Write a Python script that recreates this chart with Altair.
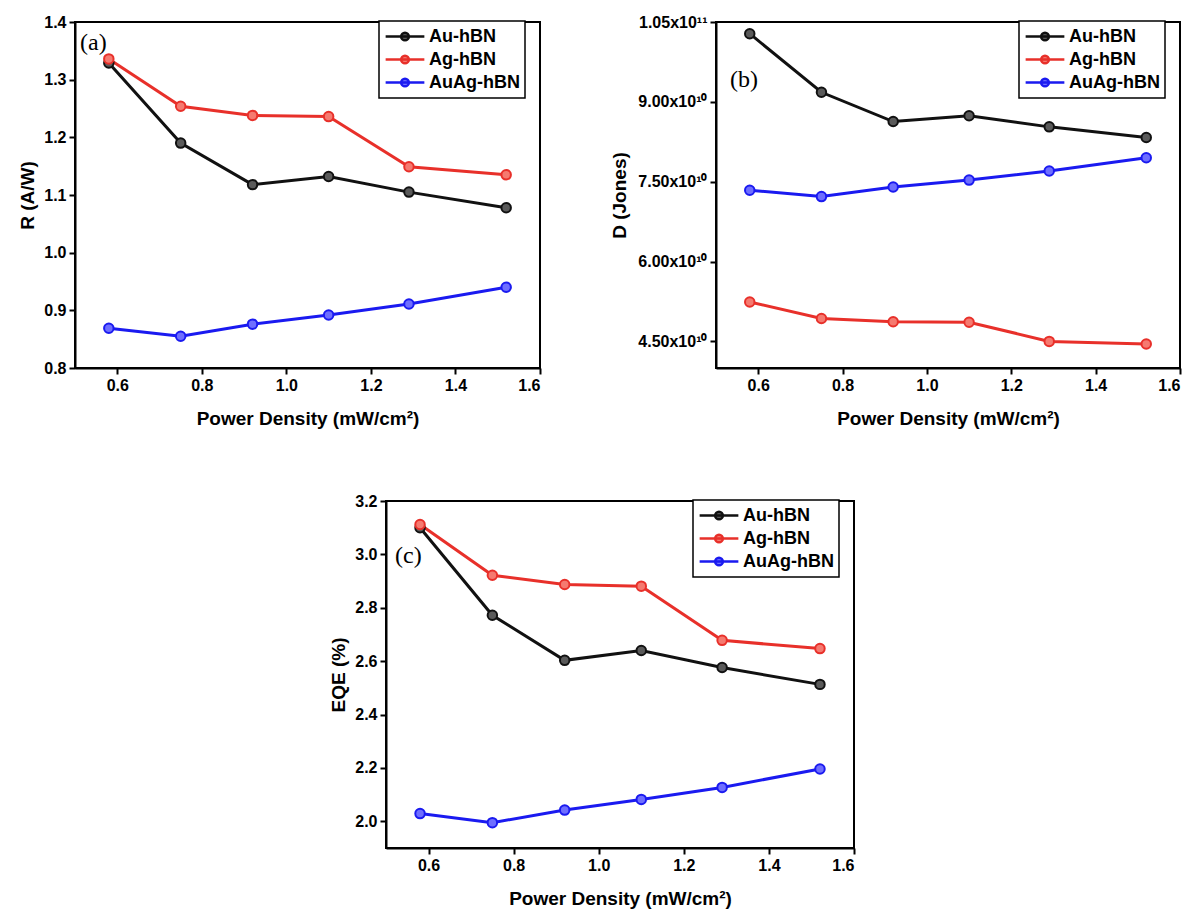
import altair as alt
import pandas as pd

# ---------------- data ----------------
power = [0.58, 0.75, 0.92, 1.10, 1.29, 1.52]
series_names = ["Au-hBN", "Ag-hBN", "AuAg-hBN"]

R_au = [1.329, 1.190, 1.118, 1.132, 1.105, 1.078]
R_ag = [1.336, 1.254, 1.238, 1.236, 1.149, 1.135]
R_auag = [0.869, 0.855, 0.876, 0.892, 0.911, 0.940]

D_au = [1.028e11, 9.18e10, 8.63e10, 8.74e10, 8.53e10, 8.33e10]
D_ag = [5.24e10, 4.93e10, 4.87e10, 4.86e10, 4.50e10, 4.45e10]
D_auag = [7.34e10, 7.22e10, 7.40e10, 7.53e10, 7.70e10, 7.95e10]

E_au = [3.100, 2.772, 2.603, 2.640, 2.576, 2.513]
E_ag = [3.112, 2.922, 2.887, 2.881, 2.678, 2.647]
E_auag = [2.029, 1.995, 2.042, 2.082, 2.127, 2.196]

x_ticks = [0.6, 0.8, 1.0, 1.2, 1.4, 1.6]
R_ticks = [0.8, 0.9, 1.0, 1.1, 1.2, 1.3, 1.4]
D_ticks = [4.5e10, 6.0e10, 7.5e10, 9.0e10, 1.05e11]
E_ticks = [2.0, 2.2, 2.4, 2.6, 2.8, 3.0, 3.2]

line_colors = ["#111111", "#e8302a", "#1a1af0"]
fill_colors = ["#5a5a5a", "#f57a70", "#6e6eff"]

X_TITLE = "Power Density (mW/cm²)"


def long_table(vals):
    rows = []
    for name, ys in zip(series_names, vals):
        for xv, yv in zip(power, ys):
            rows.append({"x": xv, "y": yv, "series": name})
    return pd.DataFrame(rows)


LEGEND_PATH = ("M-1,0L1,0M0.2,0A0.2,0.2,0,1,1,-0.2,0"
               "A0.2,0.2,0,1,1,0.2,0Z")


def panel(vals, ydomain, yticks, ytitle, tag, tag_x, tag_y, w, h,
          ytitle_pad, label_expr=None):
    df = long_table(vals)
    xenc = alt.X("x:Q", scale=alt.Scale(domain=[0.5, 1.6], nice=False, zero=False),
                 axis=alt.Axis(values=x_ticks, format=".1f", title=X_TITLE,
                               titlePadding=16))
    yaxis = dict(values=yticks, title=ytitle, titlePadding=ytitle_pad)
    if label_expr:
        yaxis["labelExpr"] = label_expr
    else:
        yaxis["format"] = ".1f"
    yenc = alt.Y("y:Q", scale=alt.Scale(domain=ydomain, nice=False, zero=False),
                 axis=alt.Axis(**yaxis))
    legend = alt.Legend(orient="none", legendX=w - 161, legendY=-1, title=None,
                        symbolType=LEGEND_PATH, symbolSize=1500,
                        symbolStrokeWidth=2.5, clipHeight=21, rowPadding=2,
                        padding=5, labelFontSize=18, labelFontWeight="bold",
                        labelColor="black", labelOffset=3,
                        strokeColor="black", fillColor="white")
    lines = alt.Chart(df).mark_line(strokeWidth=3).encode(
        x=xenc, y=yenc,
        color=alt.Color("series:N", scale=alt.Scale(domain=series_names, range=line_colors),
                        legend=None),
    )
    pts = alt.Chart(df).mark_point(filled=True, size=90, strokeWidth=2, opacity=1).encode(
        x="x:Q", y="y:Q",
        fill=alt.Fill("series:N", scale=alt.Scale(domain=series_names, range=fill_colors),
                      legend=legend),
        stroke=alt.Stroke("series:N", scale=alt.Scale(domain=series_names, range=line_colors),
                          legend=legend),
    )
    tag_chart = alt.Chart(pd.DataFrame({"t": [tag]})).mark_text(
        font="Liberation Serif", fontSize=24, align="left", baseline="middle",
        color="black").encode(text="t:N", x=alt.value(tag_x), y=alt.value(tag_y))
    return alt.layer(lines, pts, tag_chart).properties(width=w, height=h)


pa = panel([R_au, R_ag, R_auag], [0.8, 1.4], R_ticks, "R (A/W)", "(a)", 5, 21,
           465, 346, 6)
d_expr = ("datum.value >= 1e11 ? format(datum.value/1e11, '.2f') + 'x10¹¹' : "
          "format(datum.value/1e10, '.2f') + 'x10¹⁰'")
pb = panel([D_au, D_ag, D_auag], [4.0e10, 1.05e11], D_ticks, "D (Jones)", "(b)", 14, 58,
           464, 346, 8, label_expr=d_expr)
pc = panel([E_au, E_ag, E_auag], [1.9, 3.2], E_ticks, "EQE (%)", "(c)", 9, 55,
           468, 347, 6)

spacer = alt.Chart(pd.DataFrame({"s": [0]})).mark_point(opacity=0).encode(
    x=alt.value(0), y=alt.value(0)
).properties(width=10, height=10,
             view=alt.ViewBackground(strokeWidth=0, strokeOpacity=0))

top = alt.hconcat(pa, pb, spacing=176, bounds="flush").resolve_legend(
    fill="independent", stroke="independent")
bottom = alt.hconcat(spacer, pc, spacing=301, bounds="flush").resolve_legend(
    fill="independent", stroke="independent")

chart = alt.vconcat(top, bottom, spacing=479, bounds="flush").resolve_legend(
    fill="independent", stroke="independent"
).properties(
    padding={"left": 9, "top": 5, "right": 0, "bottom": 0},
    background="white",
).configure(
    font="Liberation Sans",
).configure_view(
    stroke="black", strokeWidth=2,
).configure_axis(
    domainColor="black", domainWidth=2, tickColor="black", tickWidth=2,
    tickSize=6, labelPadding=3, labelFont="Liberation Sans", labelFontSize=16,
    labelFontWeight="bold", labelColor="black", titleFont="Liberation Sans",
    titleFontSize=19, titleFontWeight="bold", titleColor="black", grid=False,
).configure_legend(
    strokeWidth=1.5,
)

chart.save("out.html", embed_options={"renderer": "svg", "actions": False})
